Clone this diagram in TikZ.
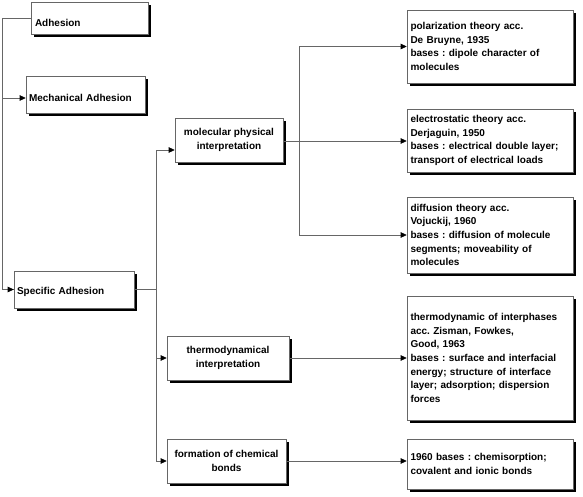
\documentclass[tikz,border=0pt]{standalone}
\usepackage{fontspec}
\setmainfont{Liberation Sans}
\usetikzlibrary{arrows.meta,shadows}
\frenchspacing

\tikzset{
    box/.style={draw=black!60, line width=0.6pt, fill=white,
        drop shadow={shadow xshift=3pt, shadow yshift=-3pt, fill=black, opacity=1},
        inner sep=3pt, font=\bfseries\fontsize{10}{13.6}\selectfont},
    line/.style={draw=black!60, line width=0.6pt},
    arr/.style={line, -{Triangle[length=6pt, width=5.5pt, color=black]}}
}

\begin{document}
\begin{tikzpicture}[x=1pt, y=-1pt]
    \useasboundingbox (0,0) rectangle (583,497);
    % Left column
    \node[box, minimum width=117pt, minimum height=32pt, text width=109pt, text height=17pt, align=left] (Adh) at (89.5,18) {Adhesion};
    \node[box, minimum width=119pt, minimum height=37pt, text width=113pt, text height=13pt, align=left] (Mech) at (85.5,95) {Mechanical Adhesion};
    \node[box, minimum width=120pt, minimum height=37pt, text width=114pt, text height=12pt, align=left] (Spec) at (74,289.5) {Specific Adhesion};
    % Middle column
    \node[box, minimum width=108pt, minimum height=44pt, align=center] (Mol) at (229,140) {molecular physical\\interpretation};
    \node[box, minimum width=122pt, minimum height=44pt, align=center] (Thermo) at (228,358) {thermodynamical\\interpretation};
    \node[box, minimum width=119pt, minimum height=44pt, align=center] (Chem) at (226.5,461) {formation of chemical\\bonds};
    % Right column
    \foreach \name/\y/\h/\txt in {
        Pol/46.5/73/{polarization theory acc.\\De Bruyne, 1935\\bases : dipole character of\\molecules},
        Elec/140.5/63/{electrostatic theory acc.\\Derjaguin, 1950\\bases : electrical double layer;\\transport of electrical loads},
        Diff/235/76/{diffusion theory acc.\\Vojuckij, 1960\\bases : diffusion of molecule\\segments; moveability of\\molecules},
        Inter/358/124/{thermodynamic of interphases\\acc. Zisman, Fowkes,\\Good, 1963\\bases : surface and interfacial\\energy; structure of interface\\layer; adsorption; dispersion\\forces},
        Bond/464/50/{1960 bases : chemisorption;\\covalent and ionic bonds}} {
        \node[box, minimum width=166pt, minimum height=\h pt, text width=159pt, align=left] (\name) at (490,\y) {\txt};
    }
    % Connectors
    \coordinate (JLeft) at (2,18);
    \coordinate (JMid) at (156,289.5);
    \coordinate (JRight) at (299,141);
    \draw[line] (Adh.west) -- (JLeft) |- (Spec.west);
    \draw[arr] (JLeft) |- ([yshift=-3pt]Mech.west);
    \draw[arr] (JLeft |- Spec.west) -- (Spec.west);
    \draw[line] (Spec.east) -- (JMid);
    \draw[arr] (JMid) |- ([yshift=-10pt]Mol.west);
    \draw[arr] (JMid) |- (Thermo.west);
    \draw[arr] (JMid) |- (Chem.west);
    \draw[arr] (Mol.east |- JRight) -- (JRight -| Elec.west);
    \draw[arr] (JRight) |- (Pol.west);
    \draw[arr] (JRight) |- (Diff.west);
    \draw[arr] (Thermo.east) -- (Inter.west);
    \draw[arr] (Chem.east) -- (Chem.east -| Bond.west);
\end{tikzpicture}
\end{document}
